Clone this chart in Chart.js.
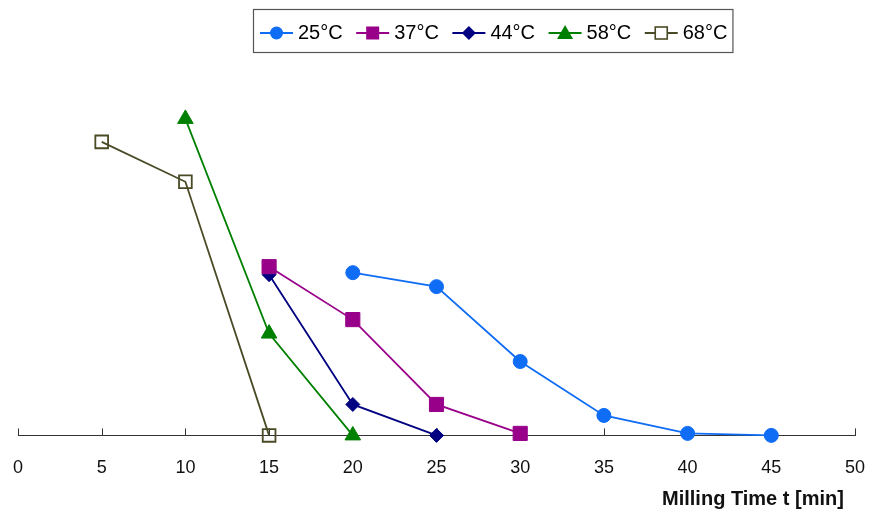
<!DOCTYPE html>
<html>
<head>
<meta charset="utf-8">
<script src="https://cdn.jsdelivr.net/npm/chart.js@4"></script>
<style>
  html, body { margin: 0; padding: 0; background: #fff; }
  #wrap { width: 870px; height: 513px; }
</style>
</head>
<body>
<div id="wrap"><canvas id="millChart" width="870" height="513"></canvas></div>
<script>
// milling time [min] and measured value (no scale shown on the original, read in plot units)
var temps = ['25°C', '37°C', '44°C', '58°C', '68°C'];
var time25 = [20, 25, 30, 35, 40, 45];
var vals25 = [163, 149, 74, 20, 2, 0];
var time37 = [15, 20, 25, 30];
var vals37 = [169, 116, 31, 2];
var time44 = [15, 20, 25];
var vals44 = [161, 31, 0];
var time58 = [10, 15, 20];
var vals58 = [317, 102, 0];
var time68 = [5, 10, 15];
var vals68 = [294, 254, 0];
var xTicks = [0, 5, 10, 15, 20, 25, 30, 35, 40, 45, 50];

var colors = ['#0f6cf5', '#99008a', '#000080', '#008000', '#4a4a26'];
var styles = ['circle', 'rect', 'rectRot', 'triangle', 'rect'];
var radii = [7, 10, 7, 9, 9];
var filled = [true, true, true, true, false];

function pts(xs, ys) {
    return xs.map(function (x, i) { return { x: x, y: ys[i] }; });
}
var seriesData = [pts(time25, vals25), pts(time37, vals37), pts(time44, vals44), pts(time58, vals58), pts(time68, vals68)];

var datasets = temps.map(function (t, i) {
    return {
        label: t,
        data: seriesData[i],
        borderColor: colors[i],
        backgroundColor: filled[i] ? colors[i] : 'rgba(0,0,0,0)',
        borderWidth: 1.8,
        pointStyle: styles[i],
        pointRadius: radii[i],
        pointHoverRadius: radii[i],
        pointBorderWidth: filled[i] ? 1 : 1.8,
        pointBorderColor: colors[i],
        pointBackgroundColor: filled[i] ? colors[i] : 'rgba(0,0,0,0)',
        tension: 0,
        clip: false
    };
});

var sans = "'Liberation Sans', Arial, sans-serif";

// small upward tick marks on the x axis (under the markers)
var upTicks = {
    id: 'upTicks',
    beforeDatasetsDraw: function (chart) {
        var sx = chart.scales.x, ctx = chart.ctx, y0 = chart.chartArea.bottom;
        ctx.save();
        ctx.strokeStyle = '#333';
        ctx.lineWidth = 1;
        xTicks.forEach(function (v) {
            var px = Math.round(sx.getPixelForValue(v)) + 0.5;
            ctx.beginPath();
            ctx.moveTo(px, y0);
            ctx.lineTo(px, y0 - 7);
            ctx.stroke();
        });
        ctx.restore();
    }
};

// boxed legend: line + marker, then label
var boxLegend = {
    id: 'boxLegend',
    afterDraw: function (chart) {
        var ctx = chart.ctx;
        var left = 253, top = 9, h = 43, cy = 33;
        var x = left + 7;
        ctx.save();
        ctx.font = '20px ' + sans;
        ctx.textBaseline = 'middle';
        chart.data.datasets.forEach(function (ds, i) {
            var c = colors[i];
            ctx.strokeStyle = c;
            ctx.fillStyle = c;
            ctx.lineWidth = 1.8;
            ctx.beginPath();
            ctx.moveTo(x, cy);
            ctx.lineTo(x + 33, cy);
            ctx.stroke();
            var mx = x + 16.5;
            ctx.beginPath();
            if (styles[i] === 'circle') {
                ctx.arc(mx, cy, 6.5, 0, Math.PI * 2);
                ctx.fill();
            } else if (styles[i] === 'rect' && filled[i]) {
                ctx.fillRect(mx - 6.5, cy - 6.5, 13, 13);
            } else if (styles[i] === 'rect') {
                ctx.fillStyle = '#fff';
                ctx.fillRect(mx - 6, cy - 6, 12, 12);
                ctx.lineWidth = 1.6;
                ctx.strokeRect(mx - 6, cy - 6, 12, 12);
            } else if (styles[i] === 'rectRot') {
                ctx.moveTo(mx, cy - 7); ctx.lineTo(mx + 7, cy); ctx.lineTo(mx, cy + 7); ctx.lineTo(mx - 7, cy);
                ctx.closePath(); ctx.fill();
            } else {
                ctx.moveTo(mx, cy - 8); ctx.lineTo(mx + 8, cy + 6); ctx.lineTo(mx - 8, cy + 6);
                ctx.closePath(); ctx.fill();
            }
            x += 38;
            ctx.fillStyle = '#000';
            ctx.fillText(ds.label, x, cy);
            x += ctx.measureText(ds.label).width + 13.5;
        });
        var right = x - 13.5 + 5;
        ctx.strokeStyle = '#555';
        ctx.lineWidth = 1.2;
        ctx.strokeRect(left + 0.5, top + 0.5, right - left, h);
        ctx.restore();
    }
};

var millChart = new Chart(document.getElementById('millChart'), {
    type: 'line',
    data: { datasets: datasets },
    options: {
        responsive: false,
        animation: false,
        layout: { padding: { top: 62, left: 18, right: 15, bottom: 0 } },
        plugins: {
            legend: { display: false },
            tooltip: { enabled: false }
        },
        scales: {
            x: {
                type: 'linear',
                min: 0,
                max: 50,
                grid: {
                    display: true,
                    drawOnChartArea: false,
                    drawTicks: true,
                    tickLength: 22,
                    tickColor: 'rgba(0,0,0,0)'
                },
                border: { display: true, color: '#333', width: 1 },
                afterBuildTicks: function (axis) {
                    axis.ticks = xTicks.map(function (v) { return { value: v }; });
                },
                ticks: {
                    padding: 0,
                    color: '#111',
                    maxRotation: 0,
                    autoSkip: false,
                    font: { family: sans, size: 18 }
                },
                title: {
                    display: true,
                    text: 'Milling Time t [min]  ',
                    align: 'end',
                    color: '#111',
                    padding: { top: 8, bottom: 2 },
                    font: { family: sans, size: 20, weight: 'bold' }
                }
            },
            y: {
                display: false,
                min: 0,
                max: 374
            }
        }
    },
    plugins: [upTicks, boxLegend]
});
</script>
</body>
</html>
